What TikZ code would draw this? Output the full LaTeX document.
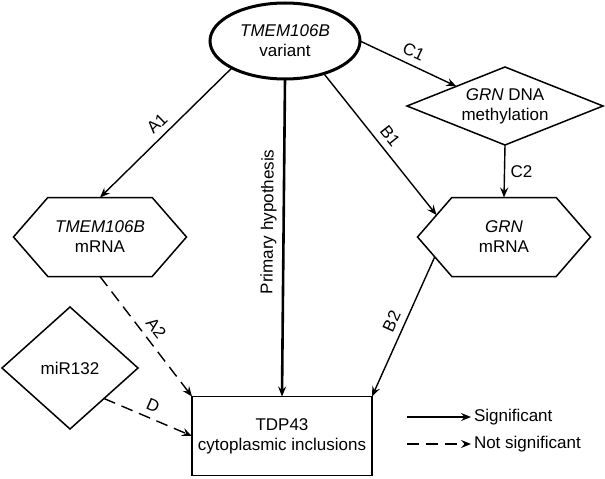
\documentclass[tikz,border=0pt]{standalone}
\usepackage{fontspec}
\setmainfont{Liberation Sans}
\usetikzlibrary{shapes.geometric,shapes.symbols,arrows.meta}

\begin{document}
\begin{tikzpicture}[x=1pt,y=-1pt,
  every node/.style = {align=center, inner sep=0pt, outer sep=0pt,
    font=\fontsize{17}{20}\selectfont},
  oval/.style = {ellipse, draw, line width=3pt, minimum width=150, minimum height=76},
  hexa/.style = {signal, signal to=west and east, signal pointer angle=98,
    draw, line width=1.5pt, minimum width=173, minimum height=79},
  dia/.style = {diamond, draw, line width=1.5pt},
  box/.style = {rectangle, draw, line width=1.5pt, minimum width=180, minimum height=79},
  link/.style = {line width=1.4pt, -{Stealth[length=10pt,width=8pt,inset=3.5pt]}},
  ns/.style = {link, dash pattern=on 12pt off 7pt},
  lbl/.style = {sloped, above=7pt}]
  \useasboundingbox (0,0) rectangle (605,479);

  \node[oval] (var) at (285,41) {\textit{TMEM106B}\\variant};
  \node[hexa] (tmrna) at (100,237) {\textit{TMEM106B}\\mRNA};
  \node[hexa] (grn) at (504,237) {\textit{GRN}\\mRNA};
  \node[dia, aspect=2.5, minimum width=196, minimum height=78] (dna) at (505,106)
    {\textit{GRN} DNA\\methylation};
  \node[dia, aspect=1.11, minimum width=136, minimum height=122] (mir) at (70,368) {miR132};
  \node[box] (tdp) at (282,436) {TDP43\\cytoplasmic inclusions};

  % significant paths
  \draw[link] (var.south west) -- node[lbl] {A1} (tmrna.north);
  \draw[link] (var.-40) -- node[lbl] {B1} (grn.162);
  \draw[link] (var.east) -- node[lbl] {C1} (dna.158);
  \draw[link] (dna.south) -- node[right=6pt] {C2} (grn.north);
  \draw[link] (grn.196) -- node[lbl] {B2} (tdp.north east);
  \draw[link, line width=2.6pt] (var.south) -- node[lbl, pos=0.45] {Primary hypothesis} (tdp.north);
  % not significant
  \draw[ns] (tmrna.south) -- node[lbl] {A2} (tdp.north west);
  \draw[ns] (mir.south east) -- node[lbl] {D} (tdp.west);

  % legend
  \coordinate (sig) at (407,417);
  \coordinate (nsig) at (407,444);
  \node[anchor=west] (sigtxt) at (474,417) {Significant};
  \node[anchor=west] (nsigtxt) at (474,444) {Not significant};
  \draw[link, shorten >=3pt] (sig) -- (sigtxt.west);
  \draw[ns, shorten >=3pt] (nsig) -- (nsigtxt.west);
\end{tikzpicture}
\end{document}
